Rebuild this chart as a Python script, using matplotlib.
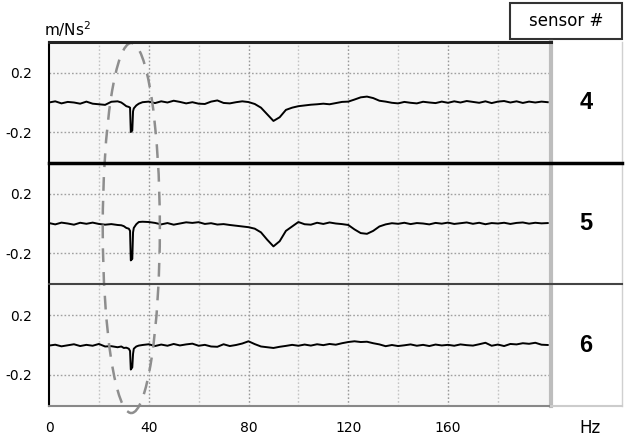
import matplotlib
matplotlib.use('Agg')
import matplotlib.pyplot as plt
from matplotlib.lines import Line2D
from matplotlib.patches import Ellipse, Rectangle

# frequency axis (Hz), denser round the 33 Hz spike
freq = [0, 2.5, 5, 7.5, 10, 12.5, 15, 17.5, 20, 22.5, 25, 27.5,
        29, 30, 31, 32, 32.5, 32.8, 33.4, 33.7, 34, 35, 36, 37.5,
        40, 42.5, 45, 47.5, 50, 52.5, 55, 57.5, 60, 62.5,
        65, 67.5, 70, 72.5, 75, 77.5, 80, 82.5, 85, 87.5,
        90, 92.5, 95, 97.5, 100, 102.5, 105, 107.5, 110, 112.5,
        115, 117.5, 120, 122.5, 125, 127.5, 130, 132.5, 135, 137.5,
        140, 142.5, 145, 147.5, 150, 152.5, 155, 157.5, 160, 162.5,
        165, 167.5, 170, 172.5, 175, 177.5, 180, 182.5, 185, 187.5,
        190, 192.5, 195, 197.5, 200]

# m/Ns^2
sensor4 = [0.0, 0.008, -0.006, 0.004, 0.0, -0.008, 0.006, -0.008, -0.012, -0.016, 0.005, 0.008,
           0.0, -0.012, -0.025, -0.03, -0.035, -0.2, -0.19, -0.06, -0.04, -0.02, -0.008, 0.002,
           0.006, -0.004, 0.008, 0.0, 0.012, 0.004, -0.006, 0.002, -0.008, -0.01,
           0.006, 0.014, -0.003, -0.006, 0.002, 0.008, 0.003, -0.01, -0.035, -0.08,
           -0.125, -0.1, -0.05, -0.035, -0.025, -0.02, -0.015, -0.012, -0.008, -0.012,
           -0.004, 0.004, 0.006, 0.02, 0.035, 0.04, 0.03, 0.012, 0.006, -0.002,
           -0.006, 0.004, -0.002, -0.006, 0.005, 0.0, -0.004, 0.006, -0.002, 0.008,
           0.0, 0.01, 0.004, -0.002, 0.008, -0.004, 0.006, 0.01, 0.0, 0.008,
           -0.003, 0.006, 0.0, 0.006, 0.002]

sensor5 = [0.003, -0.006, 0.006, 0.0, -0.008, 0.005, -0.002, 0.006, -0.003, -0.008, -0.004, -0.01,
           -0.012, -0.018, -0.03, -0.035, -0.05, -0.25, -0.24, -0.06, -0.03, -0.005, 0.01, 0.012,
           0.01, 0.004, -0.006, 0.003, -0.008, 0.0, 0.008, 0.004, 0.009, -0.003,
           0.002, -0.007, -0.004, -0.01, -0.015, -0.02, -0.025, -0.035, -0.06, -0.11,
           -0.155, -0.12, -0.05, -0.02, 0.01, -0.005, -0.008, 0.005, -0.003, 0.007,
           0.0, -0.004, -0.01, -0.04, -0.065, -0.07, -0.05, -0.02, -0.006, 0.002,
           -0.002, 0.005, -0.004, 0.003, 0.0, -0.006, 0.004, -0.001, 0.006, -0.003,
           0.002, 0.007, -0.002, 0.005, -0.005, 0.003, 0.0, 0.005, -0.003, 0.004,
           0.007, -0.001, 0.005, 0.001, 0.003]

sensor6 = [-0.004, 0.002, -0.009, -0.002, 0.005, -0.007, 0.001, -0.005, 0.007, -0.01, -0.008, -0.015,
           -0.01, -0.02, -0.018, -0.025, -0.04, -0.165, -0.15, -0.06, -0.025, -0.01, -0.004, 0.0,
           0.005, -0.007, 0.003, -0.005, 0.007, -0.003, 0.004, 0.009, -0.005, 0.001,
           -0.01, -0.012, 0.005, -0.007, 0.0, 0.01, 0.025, 0.006, -0.01, -0.015,
           -0.02, -0.012, -0.006, 0.001, -0.005, 0.003, -0.004, 0.005, -0.001, 0.007,
           0.002, 0.012, 0.02, 0.025, 0.02, 0.022, 0.012, 0.004, -0.008, 0.0,
           -0.007, -0.002, 0.004, -0.005, 0.001, -0.007, 0.003, -0.003, 0.001, -0.005,
           0.004, -0.001, -0.004, 0.005, 0.015, -0.005, 0.003, -0.007, 0.007, 0.004,
           0.012, 0.008, 0.015, 0.002, 0.0]

traces = [sensor4, sensor5, sensor6]
sensor_ids = ['4', '5', '6']
xtick_vals = [0, 40, 80, 120, 160]
ytick_vals = [-0.2, 0.2]
ytick_labels = ['-0.2', '0.2']

W, H = 631, 441


def px_box(x0, y0, x1, y1):
    return [x0 / W, 1 - y1 / H, (x1 - x0) / W, (y1 - y0) / H]


def hline(fig, x0, x1, y, **kw):
    fig.add_artist(Line2D([x0 / W, x1 / W], [1 - y / H, 1 - y / H],
                          transform=fig.transFigure, **kw))


def vline(fig, x, y0, y1, **kw):
    fig.add_artist(Line2D([x / W, x / W], [1 - y0 / H, 1 - y1 / H],
                          transform=fig.transFigure, **kw))


fig = plt.figure(figsize=(6.31, 4.41), dpi=100)

x_left, x_right, x_col = 49, 551, 622
rows = [(42, 163), (163, 284), (284, 406)]
xmax = 201.3

# white sensor column
col = fig.add_axes(px_box(x_right, 42, x_col, 406))
col.set_facecolor('white')
col.set_xticks([])
col.set_yticks([])
for s in col.spines.values():
    s.set_visible(False)

axes = []
for i, (top, bot) in enumerate(rows):
    ax = fig.add_axes(px_box(x_left, top, x_right, bot))
    ax.set_facecolor('#f6f6f6')
    ax.set_xlim(0, xmax)
    ax.set_ylim(-0.41, 0.41)
    for s in ax.spines.values():
        s.set_visible(False)
    # grid
    for g in range(20, 200, 20):
        c = '#999999' if g % 40 == 0 else '#c4c4c4'
        ax.axvline(g, color=c, lw=1, ls=(0, (1.2, 1.5)), zorder=1)
    for yv in ytick_vals:
        ax.axhline(yv, color='#a0a0a0', lw=1, ls=(0, (1.2, 1.5)), zorder=1)
    ax.plot(freq, traces[i], color='black', lw=1.4, zorder=3)
    ax.set_yticks(ytick_vals)
    ax.set_yticklabels(ytick_labels, fontsize=10)
    ax.tick_params(axis='y', length=0, pad=12)
    ax.set_xticks(xtick_vals)
    if i < 2:
        ax.tick_params(axis='x', length=0, labelbottom=False)
    else:
        ax.set_xticklabels([str(v) for v in xtick_vals], fontsize=10)
        ax.tick_params(axis='x', length=0, pad=11)
    ax.text(1 + (586 - x_right) / (x_right - x_left), 0.5, sensor_ids[i],
            transform=ax.transAxes, ha='center', va='center',
            fontsize=17, fontweight='bold', family='Liberation Sans')
    axes.append(ax)

# frame lines
vline(fig, x_left, 42, 406, color='black', lw=1.5)
vline(fig, x_right, 42, 406, color='#bdbdbd', lw=3)
vline(fig, x_col, 42, 406, color='#d0d0d0', lw=1)
hline(fig, x_left, x_right, 42, color='#222222', lw=2.2)
hline(fig, x_left, x_col, 163, color='black', lw=2.5)
hline(fig, x_left, x_col, 284, color='#444444', lw=1.5)
hline(fig, x_left, x_right, 406, color='#888888', lw=1.5)
hline(fig, x_right, x_col, 406, color='#cccccc', lw=1.5)

# dashed ellipse round the 33 Hz spike
over = fig.add_axes(px_box(x_left, 42, x_right, 406))
over.set_xlim(0, xmax)
over.set_ylim(0, 3)
over.axis('off')
over.patch.set_alpha(0)
over.add_patch(Ellipse((33, 1.467), 22.9, 3.05, fill=False, edgecolor='#8e8e8e',
                       lw=1.8, ls=(0, (5.5, 4)), clip_on=False))

# labels
fig.text(44 / W, 1 - 36 / H, r'm/Ns$^{2}$', fontsize=11, ha='left', va='baseline')
fig.text(590 / W, 1 - 428 / H, 'Hz', fontsize=12, ha='center', va='center')
fig.add_artist(Rectangle((510 / W, 1 - 39 / H), 112 / W, 36 / H, transform=fig.transFigure,
                         facecolor='white', edgecolor='#333333', lw=1.5))
fig.text(566 / W, 1 - 21 / H, 'sensor #', fontsize=12, ha='center', va='center')

plt.savefig('out.png', dpi=100)
